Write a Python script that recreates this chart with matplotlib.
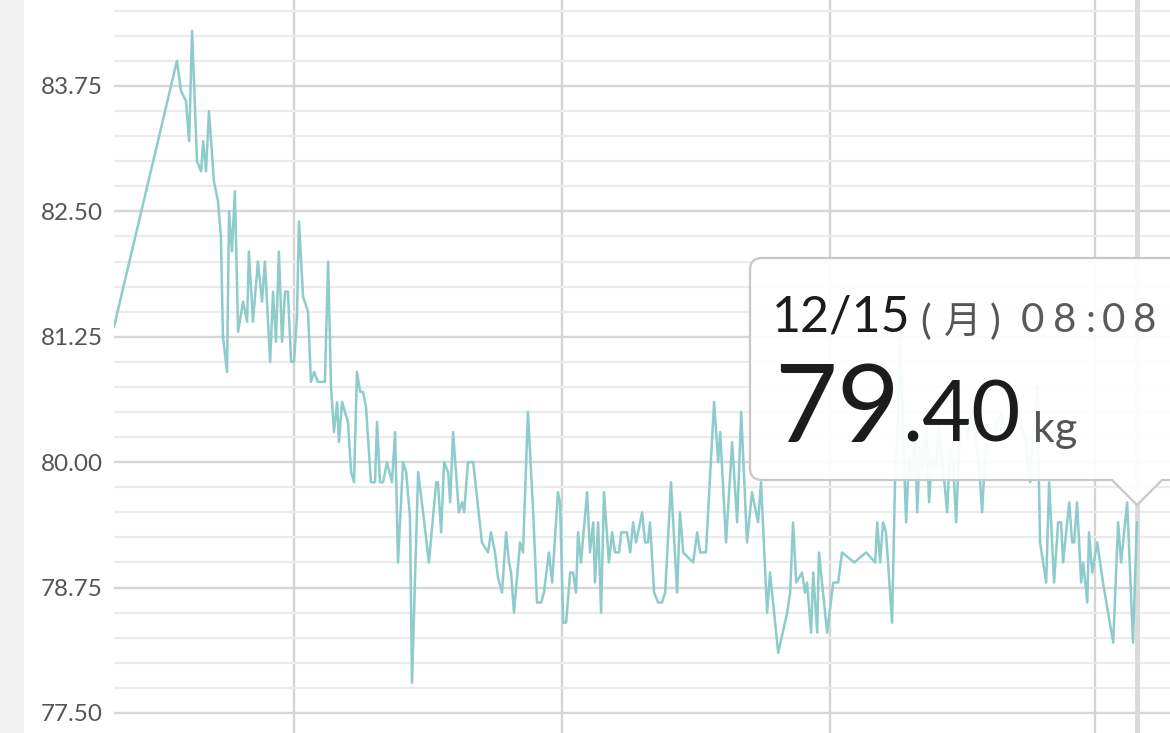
import numpy as np
import pandas as pd
import matplotlib
matplotlib.use('Agg')
import matplotlib.pyplot as plt
import matplotlib.dates as mdates
from matplotlib.path import Path
from matplotlib.patches import PathPatch, Rectangle
from matplotlib.ticker import MultipleLocator, FormatStrFormatter

# readings: days since 2025-01-01 and weight in kg
days = [-2.8, 18.8, 20.2, 21.9, 23.0, 24.0, 25.7, 27.1, 27.8, 28.8, 29.8, 31.5, 32.9, 33.9, 34.6,
        36.0, 36.7, 37.7, 38.7, 39.8, 41.5, 42.9, 43.5, 44.9, 46.6, 48.0, 49.0, 50.8, 51.8, 52.8,
        53.8, 54.9, 55.9, 56.9, 58.0, 59.0, 60.0, 60.7, 62.1, 63.8, 64.8, 65.9, 67.2, 69.6, 70.7,
        71.7, 72.7, 73.8, 74.4, 75.5, 77.5, 78.6, 79.6, 80.6, 81.7, 82.7, 83.7, 85.4, 86.8, 87.5,
        88.5, 89.6, 90.9, 92.6, 93.7, 94.7, 96.4, 97.5, 98.8, 99.5, 101.6, 103.3, 105.3, 107.8, 108.4,
        109.5, 110.5, 111.9, 112.6, 113.6, 115.6, 116.7, 117.4, 118.7, 120.5, 123.5, 125.6, 126.6, 128.0, 129.0,
        130.4, 131.8, 132.8, 133.5, 134.5, 136.6, 137.6, 139.3, 141.1, 142.4, 143.8, 144.8, 146.5, 147.6, 149.6,
        150.3, 151.4, 152.4, 153.8, 154.8, 155.8, 156.5, 157.5, 159.6, 160.6, 161.7, 162.3, 163.4, 164.4, 165.4,
        167.1, 168.2, 169.2, 170.6, 171.3, 173.3, 174.4, 175.4, 176.4, 178.5, 179.5, 180.5, 181.2, 182.6, 184.0,
        185.3, 186.4, 188.4, 190.5, 191.5, 192.6, 196.0, 197.4, 198.4, 200.4, 203.2, 204.6, 205.3, 207.3, 209.4,
        211.1, 212.5, 214.5, 216.2, 218.3, 219.3, 221.4, 222.4, 225.2, 228.3, 229.3, 230.3, 231.4, 233.4, 234.4,
        235.1, 236.5, 237.2, 238.6, 239.2, 242.0, 244.1, 245.8, 247.1, 251.3, 255.4, 258.5, 259.2, 260.2, 261.2,
        262.2, 264.3, 265.3, 266.4, 267.1, 268.1, 269.1, 270.1, 271.2, 272.2, 272.9, 273.9, 275.0, 276.0, 277.0,
        278.0, 279.4, 280.4, 281.8, 283.2, 284.2, 285.3, 286.3, 287.3, 288.7, 290.1, 291.4, 292.8, 294.2, 295.2,
        296.2, 297.6, 299.0, 300.4, 301.7, 303.1, 304.5, 305.8, 307.2, 308.6, 310.0, 311.7, 313.1, 314.1, 315.1,
        317.2, 318.2, 319.9, 321.3, 322.3, 323.0, 325.1, 326.1, 326.8, 327.8, 329.2, 329.9, 331.3, 331.9, 333.0,
        334.7, 336.7, 340.2, 341.9, 342.9, 345.0, 347.0, 348.34]
weight = [81.35, 84.0, 83.7, 83.6, 83.2, 84.3, 83.0, 82.9, 83.2, 82.9, 83.5, 82.8, 82.6, 82.25, 81.25,
          80.9, 82.5, 82.1, 82.7, 81.3, 81.6, 81.4, 82.1, 81.4, 82.0, 81.6, 82.0, 81.0, 81.7, 81.2,
          82.1, 81.2, 81.7, 81.7, 81.0, 81.0, 81.45, 82.4, 81.65, 81.5, 80.8, 80.9, 80.8, 80.8, 82.0,
          80.75, 80.3, 80.6, 80.2, 80.6, 80.4, 79.9, 79.8, 80.9, 80.7, 80.7, 80.55, 79.8, 79.8, 80.4,
          79.8, 79.8, 80.0, 79.8, 80.3, 79.0, 80.0, 79.9, 79.45, 77.8, 79.9, 79.5, 79.0, 79.8, 79.8,
          79.3, 80.0, 79.9, 79.6, 80.3, 79.5, 79.6, 79.5, 80.0, 80.0, 79.2, 79.1, 79.3, 79.1, 78.85,
          78.7, 79.3, 79.0, 78.9, 78.5, 79.2, 79.1, 80.5, 79.5, 78.6, 78.6, 78.7, 79.1, 78.8, 79.7,
          79.6, 78.4, 78.4, 78.9, 78.9, 78.7, 79.3, 79.0, 79.7, 79.1, 79.4, 78.8, 79.4, 78.5, 79.7,
          79.0, 79.3, 79.1, 79.1, 79.3, 79.3, 79.1, 79.4, 79.2, 79.5, 79.2, 79.2, 79.4, 78.7, 78.6,
          78.6, 78.7, 79.8, 78.7, 79.5, 79.1, 79.0, 79.3, 79.1, 79.1, 80.6, 80.0, 80.3, 79.2, 80.2,
          79.4, 80.5, 79.2, 79.7, 79.4, 79.8, 78.5, 78.9, 78.1, 78.5, 78.7, 79.4, 78.8, 78.9, 78.7,
          78.8, 78.3, 78.9, 78.3, 79.1, 78.3, 78.8, 78.8, 79.1, 79.0, 79.1, 79.0, 79.4, 79.0, 79.4,
          79.3, 78.4, 79.8, 80.45, 81.3, 80.25, 79.4, 80.05, 79.85, 80.35, 79.5, 80.15, 79.95, 80.45, 79.6,
          80.05, 79.95, 80.35, 79.95, 79.5, 80.15, 79.95, 79.4, 80.15, 80.45, 80.25, 80.5, 80.3, 79.95, 79.5,
          80.05, 80.35, 80.2, 80.4, 80.5, 80.25, 80.35, 80.55, 80.65, 80.35, 80.25, 79.8, 80.45, 80.75, 79.2,
          78.8, 79.8, 78.8, 79.4, 79.4, 79.0, 79.6, 79.2, 79.2, 79.6, 78.8, 79.0, 78.6, 79.3, 78.9,
          79.2, 78.8, 78.2, 79.4, 79.0, 79.6, 78.2, 79.4]

start = pd.Timestamp('2025-01-01')
view_days = (-2.8, 359.7)
y_range = (77.3, 84.607)

# selected reading shown in the tooltip
sel_day = 348.34
sel_weight = 79.40
sel_label = '12/15'
sel_wday = '(月)'
sel_time = '08:08'

line_color = '#8ecbcb'
label_font = ['Lato', 'Noto Sans CJK JP', 'DejaVu Sans']

dates = start + pd.to_timedelta(np.array(days), unit='D')

W, H = 1170, 733
fig = plt.figure(figsize=(W / 100, H / 100), dpi=100)
fig.patch.set_facecolor('white')
fig.patches.append(Rectangle((0, 0), 24 / W, 1, transform=fig.transFigure,
                             facecolor='#f1f1f1', edgecolor='none', zorder=0))

left = 114 / W
ax = fig.add_axes([left, 0, 1 - left, 1])
ax.plot(dates, weight, color=line_color, lw=1.8, zorder=3)

ax.set_xlim(start + pd.Timedelta(days=view_days[0]), start + pd.Timedelta(days=view_days[1]))
ax.set_ylim(*y_range)

ax.yaxis.set_major_locator(MultipleLocator(1.25))
ax.yaxis.set_minor_locator(MultipleLocator(0.25))
ax.yaxis.set_major_formatter(FormatStrFormatter('%.2f'))
ax.xaxis.set_major_locator(mdates.MonthLocator(bymonth=[3, 6, 9, 12]))

ax.grid(which='minor', axis='y', color='#ebebeb', lw=1.6, zorder=0)
ax.grid(which='major', axis='y', color='#d6d6d6', lw=1.7, zorder=1)
ax.grid(which='major', axis='x', color='#d4d4d4', lw=1.7, zorder=1)
ax.set_axisbelow(True)

# cursor line at the selected reading
ax.axvline(start + pd.Timedelta(days=sel_day), color='#dadada', lw=3.5, zorder=2)

for s in ax.spines.values():
    s.set_visible(False)
ax.tick_params(axis='x', which='both', length=0, labelbottom=False)
ax.tick_params(axis='y', which='both', length=0, pad=8, labelsize=17.5, labelcolor='#555555')
for t in ax.get_yticklabels():
    t.set_fontfamily(label_font)

# tooltip drawn in pixel space on an overlay
ov = fig.add_axes([0, 0, 1, 1])
ov.set_xlim(0, W)
ov.set_ylim(H, 0)
ov.axis('off')

bl, bt, bb, br, r = 750, 258, 480, 1200, 12
px = 1137
verts = [(bl + r, bt), (br, bt), (br, bb), (px + 25, bb), (px, bb + 25), (px - 25, bb),
         (bl + r, bb), (bl, bb), (bl, bb - r), (bl, bt + r), (bl, bt), (bl + r, bt), (bl + r, bt)]
codes = [Path.MOVETO, Path.LINETO, Path.LINETO, Path.LINETO, Path.LINETO, Path.LINETO,
         Path.LINETO, Path.CURVE3, Path.CURVE3, Path.LINETO, Path.CURVE3, Path.CURVE3, Path.CLOSEPOLY]
ov.add_patch(PathPatch(Path(verts, codes), facecolor=(1, 1, 1, 0.93),
                       edgecolor='#c8c8c8', lw=1.6, zorder=5))

dark, grey = '#1c1c1c', '#555555'
ov.text(772, 332, sel_label, fontsize=36, color=dark, family=label_font, zorder=6)

# weekday in brackets, spaced out like the app does
for ch, cx in zip(sel_wday, [926, 963, 995]):
    ov.text(cx, 334, ch, fontsize=29 if ch != '月' else 27, color=grey, family=label_font,
            ha='center', zorder=6)

# time, with wide letter spacing
for ch, cx in zip(sel_time, [1032, 1065, 1091, 1113, 1145]):
    ov.text(cx, 332, ch, fontsize=29, color='#5a5a5a', family=label_font,
            ha='center', zorder=6)

whole, frac = f'{sel_weight:.2f}'.split('.')
ov.text(774, 442, whole, fontsize=78, color=dark, family=label_font, zorder=6)
ov.text(902, 442, '.' + frac, fontsize=61, color=dark, family=label_font, zorder=6)
ov.text(1033, 442, 'kg', fontsize=31, color=grey, family=label_font, zorder=6)

fig.savefig('out.png', dpi=100)
